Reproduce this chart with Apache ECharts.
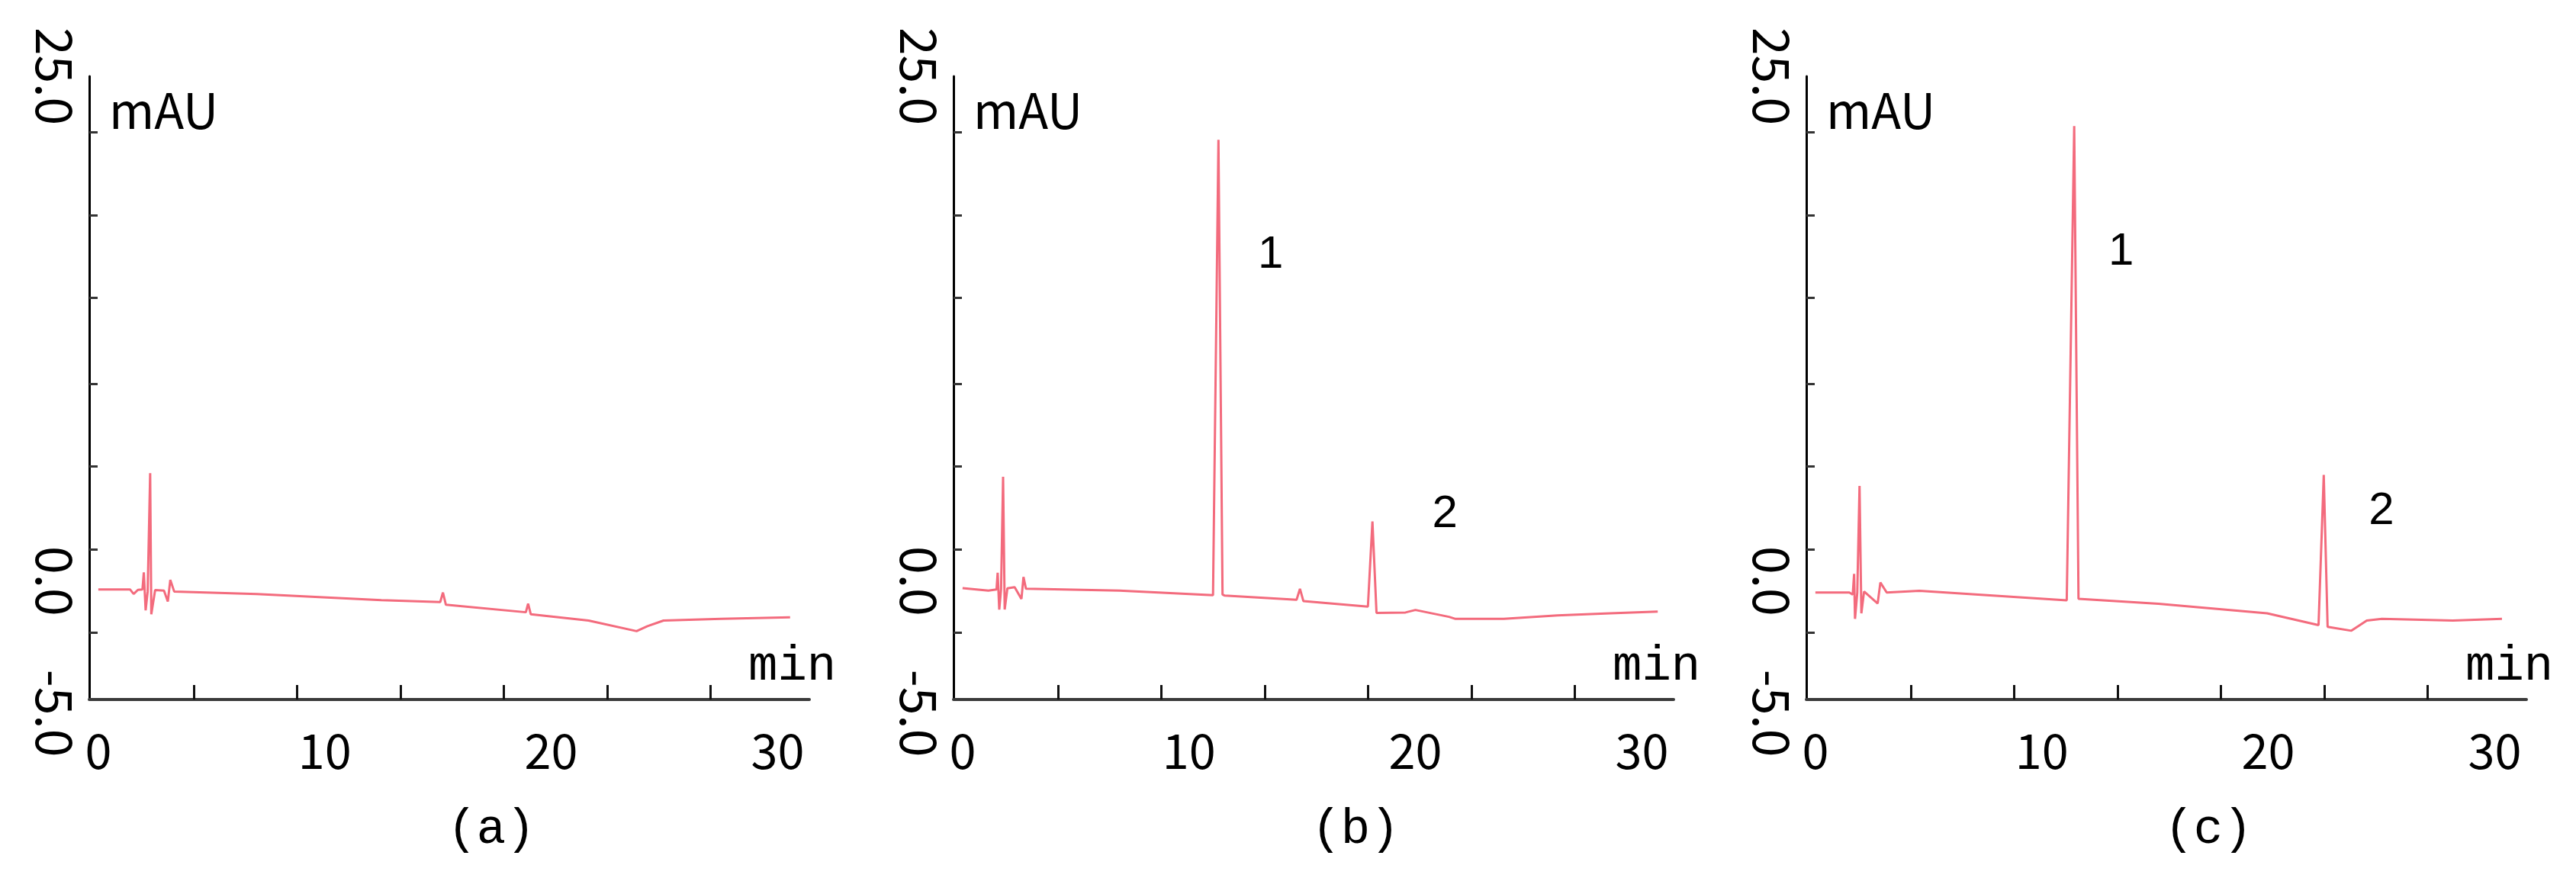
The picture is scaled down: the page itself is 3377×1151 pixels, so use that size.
<!DOCTYPE html>
<html>
<head>
<meta charset="utf-8">
<title>HPLC chromatograms</title>
<script src="https://cdn.jsdelivr.net/npm/echarts@6/dist/echarts.min.js"></script>
<style>
  html, body { margin: 0; padding: 0; background: #fff; }
  #main { width: 3377px; height: 1151px; }
</style>
</head>
<body>
<div id="main"></div>
<script>
// retention time (min) / signal (mAU)
var timeA = [0, 1.40, 1.56, 1.75, 1.95, 2.01, 2.09, 2.18, 2.29, 2.34, 2.51, 2.90, 3.07, 3.18, 3.35, 7.00, 12.50, 15.10, 15.22, 15.35, 18.88, 18.98, 19.10, 21.65, 23.77, 24.25, 24.96, 27.50, 30.55]
var signalA = [0.30, 0.30, 0.08, 0.28, 0.30, 1.12, -0.71, 0.20, 5.90, -0.90, 0.27, 0.24, -0.28, 0.76, 0.20, 0.08, -0.22, -0.31, 0.15, -0.44, -0.80, -0.39, -0.90, -1.20, -1.71, -1.47, -1.20, -1.12, -1.04]

var timeB = [0, 1.14, 1.50, 1.55, 1.62, 1.70, 1.79, 1.86, 1.98, 2.30, 2.60, 2.69, 2.80, 6.93, 11.06, 11.30, 11.48, 11.58, 14.75, 14.90, 15.05, 17.90, 18.10, 18.28, 19.56, 20.00, 21.48, 21.77, 23.90, 26.27, 28.60, 30.70]
var signalB = [0.36, 0.24, 0.30, 1.10, -0.67, 0.30, 5.72, -0.67, 0.35, 0.41, -0.16, 0.90, 0.33, 0.24, 0.02, 21.94, 0.05, 0.00, -0.20, 0.33, -0.26, -0.53, 3.57, -0.83, -0.81, -0.69, -1.02, -1.12, -1.12, -0.95, -0.85, -0.77]

var timeC = [0, 1.50, 1.65, 1.71, 1.75, 1.85, 1.95, 2.03, 2.15, 2.75, 2.87, 3.15, 4.59, 11.10, 11.43, 11.62, 11.67, 15.15, 19.95, 22.22, 22.45, 22.62, 23.67, 24.35, 25.02, 28.15, 30.32]
var signalC = [0.15, 0.15, 0.05, 1.05, -1.12, 0.15, 5.28, -0.85, 0.20, -0.38, 0.63, 0.15, 0.23, -0.23, 22.60, -0.15, -0.18, -0.39, -0.85, -1.42, 5.81, -1.50, -1.69, -1.20, -1.12, -1.20, -1.12]

var panelNames = ['(a)', '(b)', '(c)']
var xLabelValues = [0, 10, 20, 30]
var xTickValues = [4.21, 8.77, 13.34, 17.90, 22.47, 27.03]
var yLabelValues = [-5, 0, 25]
var yTickValues = [-1.78, 2.23, 6.23, 10.20, 14.33, 18.32, 22.32]
// peak numbers: [text, time, signal]
var peakTagsB = [['1', 13.6, 16.4], ['2', 21.3, 3.9]]
var peakTagsC = [['1', 13.5, 16.55], ['2', 25.0, 4.05]]

var traces = [[timeA, signalA], [timeB, signalB], [timeC, signalC]]
var peakTags = [[], peakTagsB, peakTagsC]

var lefts = [117, 1250, 2368]
var plotTop = 100
var plotW = 944
var plotH = 817
var numFont = 'Noto Sans CJK SC'
var lineColor = '#f36b7d'

function pairs (t, v) {
  return t.map(function (x, i) { return [x, v[i]] })
}

var grid = []
var xAxis = []
var yAxis = []
var series = []
var graphic = []

lefts.forEach(function (left, i) {
  grid.push({ left: left, top: plotTop, width: plotW, height: plotH })
  xAxis.push({
    type: 'value',
    gridIndex: i,
    min: -0.4,
    max: 31.4,
    splitLine: { show: false },
    axisLine: { onZero: false, lineStyle: { color: '#3a3a3a', width: 4 } },
    axisTick: { show: true, inside: true, length: 19, customValues: xTickValues, lineStyle: { color: '#111', width: 3 } },
    axisLabel: { customValues: xLabelValues, margin: 36, fontSize: 63, fontFamily: numFont, color: '#000' }
  })
  yAxis.push({
    type: 'value',
    gridIndex: i,
    min: -5,
    max: 25,
    splitLine: { show: false },
    axisLine: { show: true, onZero: false, lineStyle: { color: '#000', width: 3 } },
    axisTick: { show: true, inside: true, length: 11, customValues: yTickValues, lineStyle: { color: '#333', width: 3 } },
    axisLabel: {
      customValues: yLabelValues,
      rotate: -90,
      margin: 12,
      color: '#000',
      fontSize: 66,
      fontFamily: numFont,
      formatter: function (v) {
        var key = v < 0 ? 'lo' : (v === 0 ? 'mid' : 'hi')
        return '{' + key + '|' + v.toFixed(1) + '}'
      },
      rich: {
        lo: { fontSize: 66, fontFamily: numFont, color: '#000', padding: [0, 0, 0, 36] },
        mid: { fontSize: 66, fontFamily: numFont, color: '#000', padding: [0, 38, 0, 0] },
        hi: { fontSize: 66, fontFamily: numFont, color: '#000' }
      }
    }
  })
  series.push({
    type: 'line',
    xAxisIndex: i,
    yAxisIndex: i,
    data: pairs(traces[i][0], traces[i][1]),
    showSymbol: false,
    symbol: 'none',
    silent: true,
    lineStyle: { color: lineColor, width: 3 },
    markPoint: {
      symbol: 'circle',
      symbolSize: 1,
      silent: true,
      itemStyle: { color: 'rgba(0,0,0,0)' },
      label: { show: true, position: 'inside', formatter: '{b}', fontSize: 60, fontFamily: 'Liberation Sans', color: '#000' },
      data: peakTags[i].map(function (p) { return { name: p[0], coord: [p[1], p[2]] } })
    }
  })
  graphic.push(
    { type: 'text', x: left + 26, y: 145, style: { text: 'mAU', fontSize: 64, fontFamily: numFont, fill: '#000', verticalAlign: 'middle' } },
    { type: 'text', x: left + 864, y: 874, style: { text: 'min', fontSize: 64, fontFamily: 'Liberation Mono', fill: '#000', verticalAlign: 'middle' } },
    { type: 'text', x: left + 527, y: 1088, style: { text: panelNames[i], fontSize: 64, fontFamily: 'Liberation Mono', fill: '#000', align: 'center', verticalAlign: 'middle' } }
  )
})

var myChart = echarts.init(document.getElementById('main'))
myChart.setOption({
  animation: false,
  backgroundColor: '#fff',
  grid: grid,
  xAxis: xAxis,
  yAxis: yAxis,
  series: series,
  graphic: graphic
})
window.onresize = function () {
  myChart.resize()
}
</script>
</body>
</html>
